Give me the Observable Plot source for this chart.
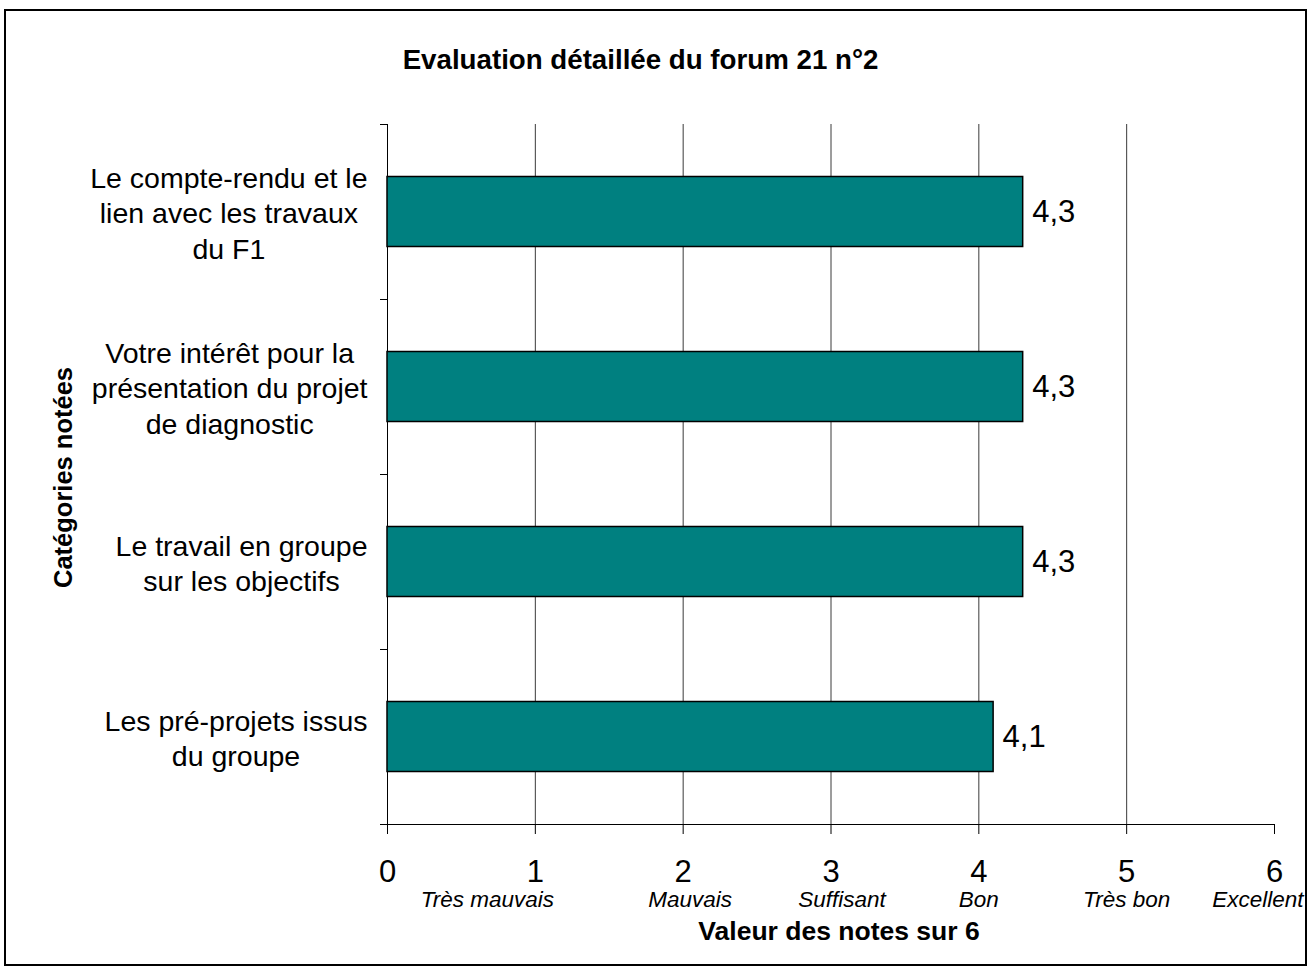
<!DOCTYPE html>
<html>
<head>
<meta charset="utf-8">
<script src="https://cdn.jsdelivr.net/npm/d3@7"></script>
<script src="https://cdn.jsdelivr.net/npm/@observablehq/plot@0.6"></script>
<style>
  html, body { margin: 0; padding: 0; background: #fff; }
  #wrap { position: relative; width: 1313px; height: 967px; overflow: hidden; background: #fff; }
  #wrap svg { position: absolute; left: 0; top: 0; }
  #border { position: absolute; left: 4px; top: 9px; width: 1303px; height: 957px; border: 2px solid #000; box-sizing: border-box; pointer-events: none; }
</style>
</head>
<body>
<div id="wrap"><div id="border"></div></div>
<script>
// ---- data ----
const categories = [
  "Le compte-rendu et le\nlien avec les travaux\ndu F1",
  "Votre intérêt pour la\nprésentation du projet\nde diagnostic",
  "Le travail en groupe\nsur les objectifs",
  "Les pré-projets issus\ndu groupe"
];
const values = [4.3, 4.3, 4.3, 4.1];
const xTicks = [0, 1, 2, 3, 4, 5, 6];
const ratingLabels = ["", "Très mauvais", "Mauvais", "Suffisant", "Bon", "Très bon", "Excellent"];
const titleText = "Evaluation détaillée du forum 21 n°2";
const xTitle = "Valeur des notes sur 6";
const yTitle = "Catégories notées";

// ---- layout ----
const W = 1313, H = 967, mL = 387, mR = 39, mT = 124, mB = 143;
const n = categories.length;
const step = (H - mT - mB) / n;
const barInset = step * 0.3;
const font = "'Liberation Sans', Arial, Helvetica, sans-serif";

const data = categories.map((c, i) => ({cat: c, value: values[i]}));
const ratings = xTicks.map((t, i) => ({tick: t, label: ratingLabels[i]})).filter(d => d.label);
const gridTicks = xTicks.filter(t => t > xTicks[0] && t < xTicks[xTicks.length - 1]);

// category labels: each block right-aligned near the axis, lines centered within the block
const catFont = 28.5;
const ctx = document.createElement("canvas").getContext("2d");
ctx.font = `${catFont}px 'Liberation Sans', Arial`;
const catMarks = categories.map(c => {
  const w = d3.max(c.split("\n"), l => ctx.measureText(l).width);
  return Plot.text([c], {
    x: () => 0, y: d => d, text: d => d,
    textAnchor: "middle", lineHeight: 1.25, fontSize: catFont,
    dx: -(20 + w / 2)
  });
});

// sub-labels under the numeric ticks
const subShift = {"Très mauvais": -48, "Mauvais": 7, "Suffisant": 11};
const subMarks = ratings.map(r => Plot.text([r], {
  x: "tick", text: "label", frameAnchor: "bottom",
  dy: 67, lineAnchor: "top", fontSize: 22.5, fontStyle: "italic",
  textAnchor: r.tick === xTicks[xTicks.length - 1] ? "end" : "middle",
  dx: r.tick === xTicks[xTicks.length - 1] ? 29 : (subShift[r.label] || 0)
}));

const chart = Plot.plot({
  width: W, height: H,
  marginLeft: mL, marginRight: mR, marginTop: mT, marginBottom: mB,
  style: {fontFamily: font, color: "#000", background: "transparent", overflow: "visible"},
  x: {domain: [xTicks[0], xTicks[xTicks.length - 1]]},
  y: {domain: categories, padding: 0, axis: null},
  marks: [
    Plot.ruleX(gridTicks, {stroke: "#3a3a3a", strokeWidth: 1}),
    Plot.ruleX([0], {stroke: "#000"}),
    Plot.barX(data, {x: "value", y: "cat", fill: "#008080", stroke: "#000", strokeWidth: 1.5, insetTop: barInset, insetBottom: barInset}),
    Plot.ruleY(categories, {y: d => d, x1: 0, x2: 0, insetLeft: -7, dy: -step / 2, stroke: "#000"}),
    Plot.ruleY([categories[n - 1]], {y: d => d, dy: step / 2, insetLeft: -7, stroke: "#000"}),
    Plot.axisX({ticks: xTicks, tickSize: 10, tickPadding: 25, fontSize: 31, label: null, tickFormat: d => String(d)}),
    Plot.text(data, {x: "value", y: "cat", text: d => d3.format(".1f")(d.value).replace(".", ","), textAnchor: "start", dx: 9, fontSize: 31}),
    ...catMarks,
    ...subMarks,
    Plot.text([titleText], {text: d => d, frameAnchor: "top", dx: -190.5, dy: -56, lineAnchor: "bottom", fontSize: 27.7, fontWeight: "bold"}),
    Plot.text([xTitle], {text: d => d, frameAnchor: "bottom", dx: 8, dy: 97, lineAnchor: "top", fontSize: 26.5, fontWeight: "bold"}),
    Plot.text([yTitle], {text: d => d, frameAnchor: "left", rotate: -90, dx: -324, dy: 3, textAnchor: "middle", fontSize: 25.5, fontWeight: "bold"})
  ]
});
document.getElementById("wrap").prepend(chart);
</script>
</body>
</html>
